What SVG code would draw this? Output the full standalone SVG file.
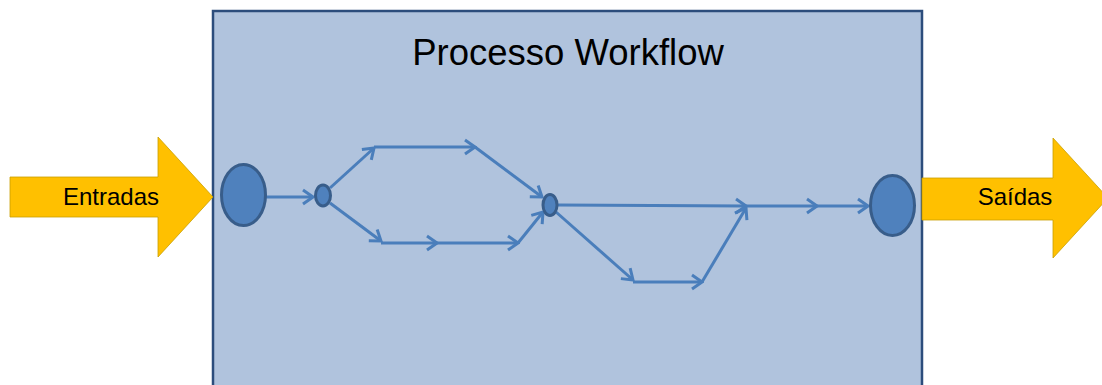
<svg xmlns="http://www.w3.org/2000/svg" width="1102" height="385" viewBox="0 0 1102 385">
<style>
.big{fill:#4f81bd;stroke:#385d8a;stroke-width:3}
.flow{stroke:#4a7ebb;stroke-width:3;fill:none;marker-end:url(#chev)}
.io{fill:#ffc000;stroke:#c9a000;stroke-width:0.8}
text{font-family:"Liberation Sans",Arial,sans-serif;fill:#000}
</style>
<defs>
<marker id="chev" markerUnits="userSpaceOnUse" viewBox="-12 -9 14 18" refX="0" refY="0" markerWidth="14" markerHeight="18" orient="auto">
<path d="M-10,-7 L0,0 L-10,7" fill="none" stroke="#4a7ebb" stroke-width="3" stroke-linejoin="miter"/>
</marker>
</defs>
<g id="process">
<rect x="213" y="11" width="709" height="390" fill="#b0c3dd" stroke="#2c4d7c" stroke-width="2.5"/>
<text x="568" y="65" font-size="36.5" text-anchor="middle">Processo Workflow</text>
</g>
<g id="entradas">
<path class="io" d="M10,177 L158,177 L158,137 L213,197 L158,257 L158,217 L10,217 Z"/>
<text x="111" y="205" font-size="24" text-anchor="middle">Entradas</text>
</g>
<g id="saidas">
<path class="io" d="M922,178 L1053,178 L1053,138 L1108,198 L1053,258 L1053,220 L922,220 Z"/>
<text x="1015" y="205" font-size="24" text-anchor="middle">Saídas</text>
</g>
<g id="connectors">
<line class="flow" x1="266" y1="197" x2="313" y2="197"/>
<line class="flow" x1="330" y1="188" x2="374" y2="148"/>
<line class="flow" x1="374" y1="147" x2="475" y2="147"/>
<line class="flow" x1="475" y1="147" x2="542" y2="197"/>
<line class="flow" x1="330" y1="203" x2="381" y2="241"/>
<line class="flow" x1="381" y1="243" x2="437" y2="243"/>
<line class="flow" x1="437" y1="243" x2="518" y2="243"/>
<line class="flow" x1="518" y1="243" x2="543" y2="212"/>
<line class="flow" x1="558" y1="205" x2="746" y2="206"/>
<line class="flow" x1="746" y1="206" x2="817" y2="206"/>
<line class="flow" x1="817" y1="206" x2="868" y2="206"/>
<line class="flow" x1="556" y1="212" x2="633" y2="280"/>
<line class="flow" x1="633" y1="282" x2="702" y2="282"/>
<line class="flow" x1="702" y1="282" x2="746" y2="208"/>
</g>
<g id="start"><ellipse class="big" cx="243.5" cy="195" rx="22" ry="30.5"/></g>
<g id="split"><ellipse class="big" cx="323" cy="195.5" rx="7.5" ry="10.5"/></g>
<g id="join"><ellipse class="big" cx="550" cy="205" rx="7" ry="10.5"/></g>
<g id="end"><ellipse class="big" cx="892.5" cy="205.5" rx="22" ry="30"/></g>
</svg>
